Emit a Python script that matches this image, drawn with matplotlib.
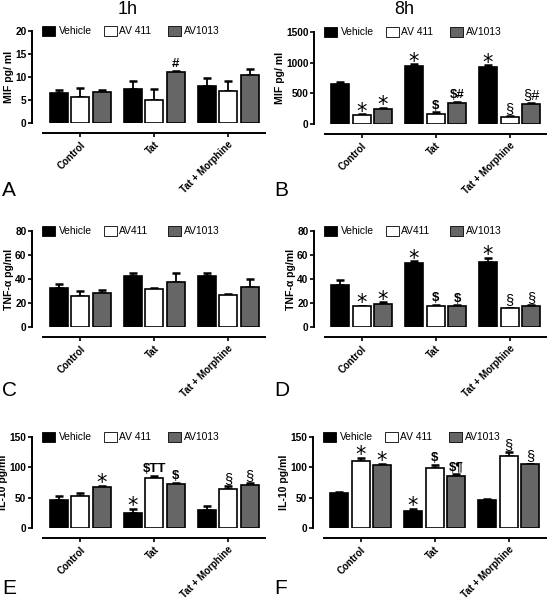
import matplotlib
matplotlib.use('Agg')
import matplotlib.pyplot as plt
from matplotlib.patches import Rectangle
import numpy as np

plt.rcParams['font.family'] = ['Liberation Sans', 'DejaVu Sans']

# ---------------- data ----------------
categories = ['Control', 'Tat', 'Tat + Morphine']
series_colors = ['#000000', '#ffffff', '#666666']

# MIF 1h (A)
mif_1h_means = [[6.5, 7.5, 8.0], [5.6, 5.1, 7.0], [6.7, 11.0, 10.5]]
mif_1h_errs = [[0.7, 1.7, 1.7], [2.1, 2.4, 2.2], [0.5, 0.3, 1.3]]
mif_1h_marks = [['', '', ''], ['', '', ''], ['', '#', '']]
# MIF 8h (B)
mif_8h_means = [[650, 945, 930], [140, 155, 110], [245, 345, 325]]
mif_8h_errs = [[35, 30, 25], [15, 35, 20], [20, 15, 25]]
mif_8h_marks = [['', '*', '*'], ['*', '$', '§'], ['*', '$#', '§#']]
# TNF 1h (C)
tnf_1h_means = [[32.6, 42.6, 42.9], [25.6, 31.5, 26.7], [28.7, 37.6, 33.7]]
tnf_1h_errs = [[3.6, 2.0, 1.7], [4.4, 0.8, 0.6], [2.5, 7.0, 6.1]]
tnf_1h_marks = [['', '', ''], ['', '', ''], ['', '', '']]
# TNF 8h (D)
tnf_8h_means = [[35.3, 53.3, 53.9], [17.2, 17.2, 15.6], [19.4, 17.2, 17.2]]
tnf_8h_errs = [[4.1, 1.4, 3.6], [0.6, 1.1, 0.5], [1.4, 0.8, 1.1]]
tnf_8h_marks = [['', '*', '*'], ['*', '$', '§'], ['*', '$', '§']]
# IL-10 1h (E)
il10_1h_means = [[46, 25.4, 29.8], [53, 82.8, 65], [67.7, 73, 71]]
il10_1h_errs = [[6, 6.6, 6.5], [5, 2.7, 4.3], [1.6, 1.7, 3.2]]
il10_1h_marks = [['', '*', ''], ['', '$TT', '§'], ['*', '$', '§']]
# IL-10 8h (F)
il10_8h_means = [[57, 27.7, 45.7], [110, 98.4, 118], [104, 85, 105]]
il10_8h_errs = [[3, 4.3, 2.7], [6, 5.6, 6.5], [2, 3.6, 1]]
il10_8h_marks = [['', '*', ''], ['*', '$', '§'], ['*', '$¶', '§']]

legend_a = ['Vehicle', 'AV 411', 'AV1013']
legend_c = ['Vehicle', 'AV411', 'AV1013']

yticks_mif_1h = [0, 5, 10, 15, 20]
yticks_mif_8h = [0, 500, 1000, 1500]
yticks_tnf = [0, 20, 40, 60, 80]
yticks_il10 = [0, 50, 100, 150]

# ---------------- layout ----------------
W, H = 547, 600
P = 74.0
step = 21.5 / P
bw = 18.0 / P

panels = [
    dict(letter='A', L=32, R=268, top=31, bot=123, C0=80, ly=191, means=mif_1h_means, errs=mif_1h_errs,
         marks=mif_1h_marks, yt=yticks_mif_1h, ylabel='MIF pg/ ml', leg=legend_a),
    dict(letter='B', L=314, R=547, top=32, bot=124, C0=361.5, ly=191, means=mif_8h_means, errs=mif_8h_errs,
         marks=mif_8h_marks, yt=yticks_mif_8h, ylabel='MIF pg/ ml', leg=legend_a),
    dict(letter='C', L=32, R=268, top=231, bot=327, C0=80, ly=390, means=tnf_1h_means, errs=tnf_1h_errs,
         marks=tnf_1h_marks, yt=yticks_tnf, ylabel='TNF-α pg/ml', leg=legend_c),
    dict(letter='D', L=314, R=547, top=231, bot=327, C0=361.5, ly=390, means=tnf_8h_means, errs=tnf_8h_errs,
         marks=tnf_8h_marks, yt=yticks_tnf, ylabel='TNF-α pg/ml', leg=legend_c),
    dict(letter='E', L=32, R=268, top=437, bot=528, C0=80, ly=589, means=il10_1h_means, errs=il10_1h_errs,
         marks=il10_1h_marks, yt=yticks_il10, ylabel='IL-10 pg/ml', leg=legend_a),
    dict(letter='F', L=313, R=547, top=437, bot=528, C0=360.5, ly=589, means=il10_8h_means, errs=il10_8h_errs,
         marks=il10_8h_marks, yt=yticks_il10, ylabel='IL-10 pg/ml', leg=legend_a),
]

fig = plt.figure(figsize=(W / 100, H / 100), dpi=100)


def px(x, y):
    return x / W, 1 - y / H


for p in panels:
    L, R, top, bot = p['L'], p['R'], p['top'], p['bot']
    ax = fig.add_axes([L / W, 1 - bot / H, (R - L) / W, (bot - top) / H])
    ax.patch.set_alpha(0)
    # spines first (set_position resets ticks)
    ax.spines['top'].set_visible(False)
    ax.spines['right'].set_visible(False)
    ax.spines['left'].set_linewidth(1.4)
    ax.spines['bottom'].set_linewidth(1.4)
    ax.spines['bottom'].set_position(('outward', 7.5))
    ax.spines['bottom'].set_bounds(-0.5, 2.5)

    xc = np.arange(len(categories))
    for s in range(3):
        x = xc + (s - 1) * step
        m = np.array(p['means'][s], dtype=float)
        e = np.array(p['errs'][s], dtype=float)
        ax.errorbar(x, m, yerr=[np.zeros_like(e), e], fmt='none', ecolor='black',
                    elinewidth=1.3, capsize=3.2, capthick=1.8, zorder=1)
        ax.bar(x, m, width=bw, color=series_colors[s], edgecolor='black', linewidth=1.2, zorder=2)
        for i in range(3):
            t = p['marks'][s][i]
            if not t:
                continue
            if t == '*':
                ax.annotate(t, (x[i], m[i] + e[i]), xytext=(0, -2.5), textcoords='offset points',
                            ha='center', va='baseline', fontsize=15, family='DejaVu Sans')
            elif t.startswith('§'):
                ax.annotate(t, (x[i], m[i] + e[i]), xytext=(0, 0.3), textcoords='offset points',
                            ha='center', va='bottom', fontsize=10.5)
            else:
                ax.annotate(t, (x[i], m[i] + e[i]), xytext=(0, 0.5), textcoords='offset points',
                            ha='center', va='bottom', fontsize=9.5, fontweight='bold')
    ax.set_xlim((L - p['C0']) / P, (R - p['C0']) / P)
    ax.set_ylim(p['yt'][0], p['yt'][-1])
    ax.set_yticks(p['yt'])
    ax.set_yticklabels([str(v) for v in p['yt']], fontsize=7.3, fontweight='bold')
    ax.set_xticks(xc)
    ax.set_xticklabels(categories, rotation=45, ha='right', rotation_mode='anchor',
                       fontsize=7, fontweight='bold')
    ax.tick_params(axis='y', direction='out', length=3, width=1.2, pad=1)
    ax.tick_params(axis='x', direction='out', length=3, width=1.2, pad=1.5)
    ax.set_ylabel(p['ylabel'], fontsize=7.6, fontweight='bold', labelpad=0.8)

    # legend
    pxs = [10, 72, 136]
    txs = [27, 87, 152]
    for s in range(3):
        x0, y0 = px(L + pxs[s], top + 5)
        fig.patches.append(Rectangle((x0, y0), 13 / W, 10 / H, transform=fig.transFigure,
                                     facecolor=series_colors[s], edgecolor='black', linewidth=0.6))
        tx, ty = px(L + txs[s], top)
        fig.text(tx, ty, p['leg'][s], ha='left', va='center', fontsize=7.4)

    lx = 2 if L < 200 else 274
    fx, fy = px(lx, p['ly'])
    fig.text(fx, fy, p['letter'], ha='left', va='center', fontsize=15)

tx, ty = px(128, 10)
fig.text(tx, ty, '1h', ha='center', va='center', fontsize=13)
tx, ty = px(404, 10)
fig.text(tx, ty, '8h', ha='center', va='center', fontsize=13)

fig.savefig('out.png', dpi=100)
